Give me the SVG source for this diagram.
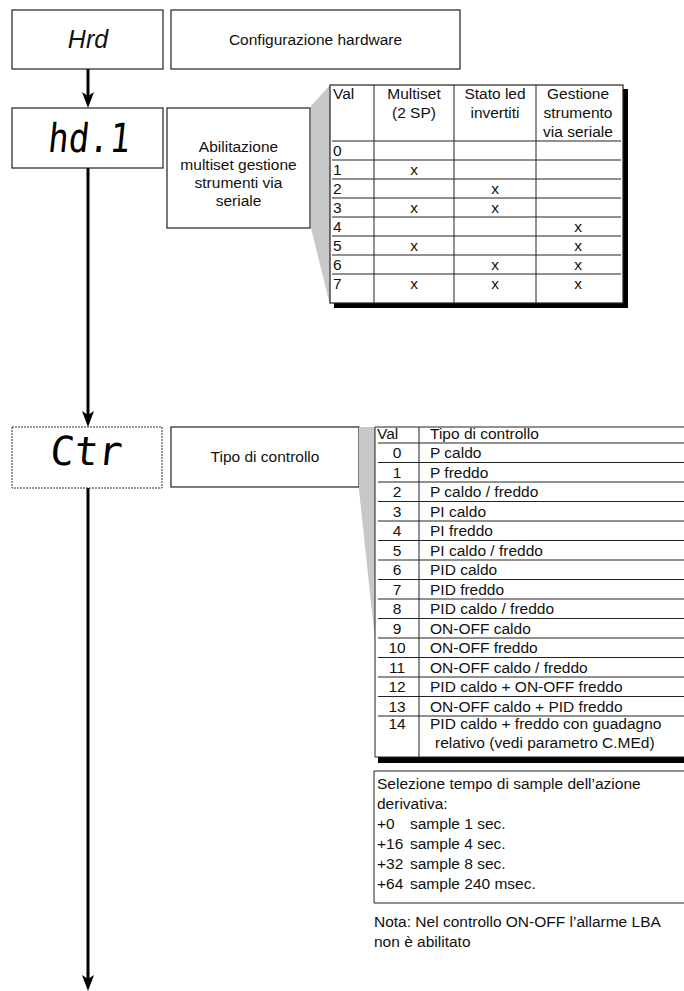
<svg xmlns="http://www.w3.org/2000/svg" width="684" height="991" viewBox="0 0 684 991">
  <style>
    text { font-family: "Liberation Sans", Arial, sans-serif; font-size: 15.5px; fill: #111; }
    .box { fill: #fff; stroke: #222; stroke-width: 1.2; }
    .dotbox { fill: #fff; stroke: #333; stroke-width: 1; stroke-dasharray: 2 1; }
    .seg { font-family: "DejaVu Sans Mono", monospace; font-size: 40px; fill: #000; }
    .mid { text-anchor: middle; }
    .grid { stroke: #222; stroke-width: 1; fill: none; }
    .wedge { fill: #c8c8c8; }
    .link { stroke: #000; stroke-width: 3; fill: none; }
  </style>
  <defs>
    <marker id="ah" viewBox="0 0 16 12" refX="10" refY="6" markerWidth="16" markerHeight="12" orient="auto" markerUnits="userSpaceOnUse">
      <path d="M0,0 L16,6 L0,12 L4,6 z" fill="#000"/>
    </marker>
  </defs>

  <!-- connectors -->
  <g id="connectors">
    <line class="link" x1="88" y1="69" x2="88" y2="102" marker-end="url(#ah)"/>
    <line class="link" x1="88" y1="168" x2="88" y2="421" marker-end="url(#ah)"/>
    <line class="link" x1="88" y1="488" x2="88" y2="985" marker-end="url(#ah)"/>
  </g>

  <!-- Hrd -->
  <g id="node-hrd">
    <rect class="box" x="12" y="10" width="151" height="59"/>
    <text x="88" y="48" class="mid" style="font-size:25px;font-style:italic">Hrd</text>
  </g>
  <g id="desc-hrd">
    <rect class="box" x="171" y="10" width="289" height="59"/>
    <text x="315.5" y="45" class="mid">Configurazione hardware</text>
  </g>

  <!-- hd.1 -->
  <g id="node-hd1">
    <rect class="box" x="12" y="108" width="151" height="60"/>
    <text class="seg" x="48" y="152" textLength="82" lengthAdjust="spacingAndGlyphs" transform="skewX(-6) translate(15 0)">hd.1</text>
  </g>
  <g id="desc-hd1">
    <rect class="box" x="167" y="108" width="143" height="120"/>
    <text x="238.5" y="152" class="mid">Abilitazione</text>
    <text x="238.5" y="170" class="mid">multiset gestione</text>
    <text x="238.5" y="188" class="mid">strumenti via</text>
    <text x="238.5" y="206" class="mid">seriale</text>
  </g>
  <g id="table-hd1">
    <polygon class="wedge" points="311,106 330,85 330,305 311,228"/>
    <rect x="334" y="89" width="294" height="219" fill="#000"/>
    <rect class="box" x="330" y="85" width="293" height="218" stroke-width="1"/>
    <path class="grid" d="M374,85V303 M454,85V303 M536,85V303
      M332,141H621 M332,160H621 M332,179H621 M332,198H621 M332,217H621 M332,236H621 M332,255H621 M332,274H621"/>
    <text x="333" y="99">Val</text>
    <text x="414" y="99" class="mid">Multiset</text>
    <text x="414" y="118" class="mid">(2 SP)</text>
    <text x="495" y="99" class="mid">Stato led</text>
    <text x="495" y="118" class="mid">invertiti</text>
    <text x="578" y="99" class="mid">Gestione</text>
    <text x="578" y="118" class="mid">strumento</text>
    <text x="578" y="137" class="mid">via seriale</text>
    <text x="333" y="156">0</text>
    <text x="333" y="175">1</text>
    <text x="333" y="194">2</text>
    <text x="333" y="213">3</text>
    <text x="333" y="232">4</text>
    <text x="333" y="251">5</text>
    <text x="333" y="270">6</text>
    <text x="333" y="289">7</text>
    <text x="414" y="175" class="mid">x</text>
    <text x="495" y="194" class="mid">x</text>
    <text x="414" y="213" class="mid">x</text>
    <text x="495" y="213" class="mid">x</text>
    <text x="578" y="232" class="mid">x</text>
    <text x="414" y="251" class="mid">x</text>
    <text x="578" y="251" class="mid">x</text>
    <text x="495" y="270" class="mid">x</text>
    <text x="578" y="270" class="mid">x</text>
    <text x="414" y="289" class="mid">x</text>
    <text x="495" y="289" class="mid">x</text>
    <text x="578" y="289" class="mid">x</text>
  </g>

  <!-- Ctr -->
  <g id="node-ctr">
    <rect class="dotbox" x="12" y="427" width="150" height="61"/>
    <text class="seg" x="50" y="465" textLength="72" lengthAdjust="spacingAndGlyphs" transform="skewX(-6) translate(48 0)">Ctr</text>
  </g>
  <g id="desc-ctr">
    <rect class="box" x="171" y="427" width="188" height="60"/>
    <text x="265" y="462" class="mid">Tipo di controllo</text>
  </g>
  <g id="table-ctr">
    <polygon class="wedge" points="359,427 375,427 375,640 359,490"/>
    <rect x="378" y="757" width="310" height="6" fill="#000"/>
    <path class="grid" d="M375,427H690 M375,427V757 M375,757H690 M419,427V757
      M378,443H690 M378,462.5H690 M378,482H690 M378,501.5H690 M378,521H690 M378,540.5H690 M378,560H690 M378,579.5H690
      M378,599H690 M378,618.5H690 M378,638H690 M378,657.5H690 M378,677H690 M378,696.5H690 M378,716H690"/>
    <text x="377" y="439">Val</text>
    <text x="430" y="439">Tipo di controllo</text>
    <text x="397" y="458" class="mid">0</text><text x="430" y="458">P caldo</text>
    <text x="397" y="477.5" class="mid">1</text><text x="430" y="477.5">P freddo</text>
    <text x="397" y="497" class="mid">2</text><text x="430" y="497">P caldo / freddo</text>
    <text x="397" y="516.5" class="mid">3</text><text x="430" y="516.5">PI caldo</text>
    <text x="397" y="536" class="mid">4</text><text x="430" y="536">PI freddo</text>
    <text x="397" y="555.5" class="mid">5</text><text x="430" y="555.5">PI caldo / freddo</text>
    <text x="397" y="575" class="mid">6</text><text x="430" y="575">PID caldo</text>
    <text x="397" y="594.5" class="mid">7</text><text x="430" y="594.5">PID freddo</text>
    <text x="397" y="614" class="mid">8</text><text x="430" y="614">PID caldo / freddo</text>
    <text x="397" y="633.5" class="mid">9</text><text x="430" y="633.5">ON-OFF caldo</text>
    <text x="397" y="653" class="mid">10</text><text x="430" y="653">ON-OFF freddo</text>
    <text x="397" y="672.5" class="mid">11</text><text x="430" y="672.5">ON-OFF caldo / freddo</text>
    <text x="397" y="692" class="mid">12</text><text x="430" y="692">PID caldo + ON-OFF freddo</text>
    <text x="397" y="711.5" class="mid">13</text><text x="430" y="711.5">ON-OFF caldo + PID freddo</text>
    <text x="397" y="729" class="mid">14</text><text x="430" y="729">PID caldo + freddo con guadagno</text>
    <text x="435" y="748">relativo (vedi parametro C.MEd)</text>
  </g>
  <g id="note-sample">
    <path class="grid" d="M690,771H374V903H690"/>
    <text x="377" y="789">Selezione tempo di sample dell’azione</text>
    <text x="377" y="809">derivativa:</text>
    <text x="377" y="829">+0</text><text x="410" y="829">sample 1 sec.</text>
    <text x="377" y="849">+16</text><text x="410" y="849">sample 4 sec.</text>
    <text x="377" y="869">+32</text><text x="410" y="869">sample 8 sec.</text>
    <text x="377" y="889">+64</text><text x="410" y="889">sample 240 msec.</text>
  </g>
  <g id="note-lba">
    <text x="374" y="927">Nota: Nel controllo ON-OFF l’allarme LBA</text>
    <text x="374" y="947">non è abilitato</text>
  </g>
</svg>
